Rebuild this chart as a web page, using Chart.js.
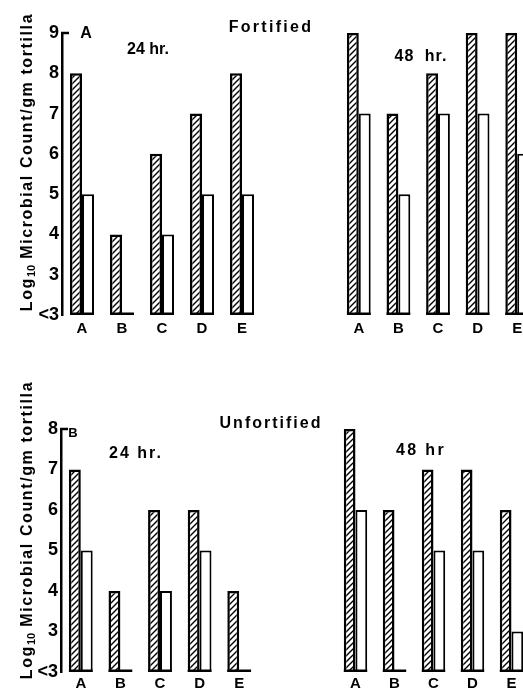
<!DOCTYPE html>
<html><head><meta charset="utf-8">
<script src="https://cdn.jsdelivr.net/npm/chart.js@4.4.0/dist/chart.umd.min.js"></script>
<style>
html,body{margin:0;padding:0;background:#fff;}
body{width:523px;height:692px;overflow:hidden;position:relative;}
canvas{position:absolute;}
.lbl{position:absolute;font-family:'Liberation Sans',Arial,sans-serif;font-weight:bold;color:#000;white-space:nowrap;transform:translate(-50%,-50%);line-height:1;}
.ytitle{transform:translate(-50%,-50%) rotate(-90deg);font-size:16px;letter-spacing:1.6px;}
.ytitle sub{font-size:11px;vertical-align:-3px;letter-spacing:0;}
</style></head><body>
<canvas id="c1" width="270" height="345" style="left:0;top:0"></canvas>
<canvas id="c2" width="200" height="345" style="left:339px;top:0"></canvas>
<canvas id="c3" width="270" height="342" style="left:0;top:360px"></canvas>
<canvas id="c4" width="197" height="342" style="left:336px;top:360px"></canvas>

<div class="lbl ytitle" style="left:28px;top:162px">Log<sub>10</sub> Microbial Count/gm tortilla</div>
<div class="lbl ytitle" style="left:28px;top:530px">Log<sub>10</sub> Microbial Count/gm tortilla</div>
<div class="lbl" style="left:86px;top:33px;font-size:16px">A</div>
<div class="lbl" style="left:148px;top:49px;font-size:16px">24 hr.</div>
<div class="lbl" style="left:271px;top:27px;font-size:16px;letter-spacing:2.3px">Fortified</div>
<div class="lbl" style="left:421px;top:56px;font-size:16px;letter-spacing:1px;word-spacing:5px">48 hr.</div>
<div class="lbl" style="left:73px;top:432px;font-size:13px">B</div>
<div class="lbl" style="left:136px;top:453px;font-size:16px;letter-spacing:2px">24 hr.</div>
<div class="lbl" style="left:271px;top:423px;font-size:16px;letter-spacing:2px">Unfortified</div>
<div class="lbl" style="left:421px;top:450px;font-size:16px;letter-spacing:2.4px">48 hr</div>

<script>
const categories = ['A','B','C','D','E'];
const yTickLabels = ['<3','3','4','5','6','7','8','9'];
const fortified24Hatched = [8,4,6,7,8];
const fortified24Open    = [5,2,4,5,5];
const fortified48Hatched = [9,7,8,9,9];
const fortified48Open    = [7,5,7,7,6];
const unfortified24Hatched = [7,4,6,6,4];
const unfortified24Open    = [5,2,4,5,2];
const unfortified48Hatched = [8,6,7,7,6];
const unfortified48Open    = [6,2,5,5,3];
const yMin = 2;

function makeHatch(ctx){
  const c=document.createElement('canvas'); c.width=6; c.height=6;
  const g=c.getContext('2d');
  g.fillStyle='#fff'; g.fillRect(0,0,6,6);
  g.strokeStyle='#000'; g.lineWidth=1.4;
  g.beginPath();
  g.moveTo(-1,7); g.lineTo(7,-1);
  g.moveTo(-4,4); g.lineTo(4,-4);
  g.moveTo(2,10); g.lineTo(10,2);
  g.stroke();
  return ctx.createPattern(c,'repeat');
}

const extras = {
  id:'extras',
  afterDatasetsDraw(chart, args, opts){
    const ctx=chart.ctx, y=chart.scales.y;
    const m0=chart.getDatasetMeta(0), m1=chart.getDatasetMeta(1);
    ctx.save(); ctx.strokeStyle='#000'; ctx.lineWidth=2.5;
    m0.data.forEach((b,i)=>{
      const o=m1.data[i];
      const l=b.x-b.width/2, r=o.x+o.width/2;
      ctx.beginPath(); ctx.moveTo(l,y.bottom-1.25); ctx.lineTo(r,y.bottom-1.25); ctx.stroke();
    });
    if(opts.hook){
      ctx.beginPath(); ctx.moveTo(chart.chartArea.left-1, y.top); ctx.lineTo(chart.chartArea.left+7, y.top); ctx.stroke();
    }
    ctx.restore();
  }
};

function makeChart(id, hatched, open, cfg){
  const canvas=document.getElementById(id);
  const ctx=canvas.getContext('2d');
  const yScale = {
    display: cfg.showY, min: yMin, max: cfg.max,
    grid:{display:false, drawTicks:false},
    border:{display:true, color:'#000', width:2.5},
    ticks:{stepSize:1, color:'#000', padding:3,
      font:{family:'Liberation Sans', weight:'bold', size:18},
      callback:v=>yTickLabels[v-yMin]}
  };
  if(cfg.showY) yScale.afterFit = s=>{ s.width = cfg.yw; };
  return new Chart(ctx,{
    type:'bar',
    data:{labels:categories, datasets:[
      {label:'Hatched bars', data:hatched, backgroundColor:makeHatch(ctx), borderColor:'#000', borderWidth:2.5, borderSkipped:false},
      {label:'Open bars', data:open, backgroundColor:'#fff', borderColor:'#000', borderWidth:2, borderSkipped:false}
    ]},
    options:{
      responsive:false, animation:false,
      layout:{padding:{top:cfg.top, left:0, right:cfg.right, bottom:0}},
      datasets:{bar:{categoryPercentage:0.6, barPercentage:1}},
      plugins:{legend:{display:false}, tooltip:{enabled:false}, extras:{hook:cfg.showY}},
      scales:{
        x:{grid:{display:false, drawTicks:false}, border:{display:false},
           ticks:{color:'#000', padding:cfg.xpad, maxRotation:0, font:{family:'Liberation Sans', weight:'bold', size:15}},
           afterFit:s=>{ s.height = 30; }},
        y:yScale
      }
    },
    plugins:[extras]
  });
}

makeChart('c1', fortified24Hatched, fortified24Open, {showY:true, yw:62, right:8, top:33, max:9, xpad:5});
makeChart('c2', fortified48Hatched, fortified48Open, {showY:false, right:2, top:33, max:9, xpad:5});
makeChart('c3', unfortified24Hatched, unfortified24Open, {showY:true, yw:61, right:11, top:69, max:8, xpad:3});
makeChart('c4', unfortified48Hatched, unfortified48Open, {showY:false, right:2, top:69, max:8, xpad:3});
</script>
</body></html>
